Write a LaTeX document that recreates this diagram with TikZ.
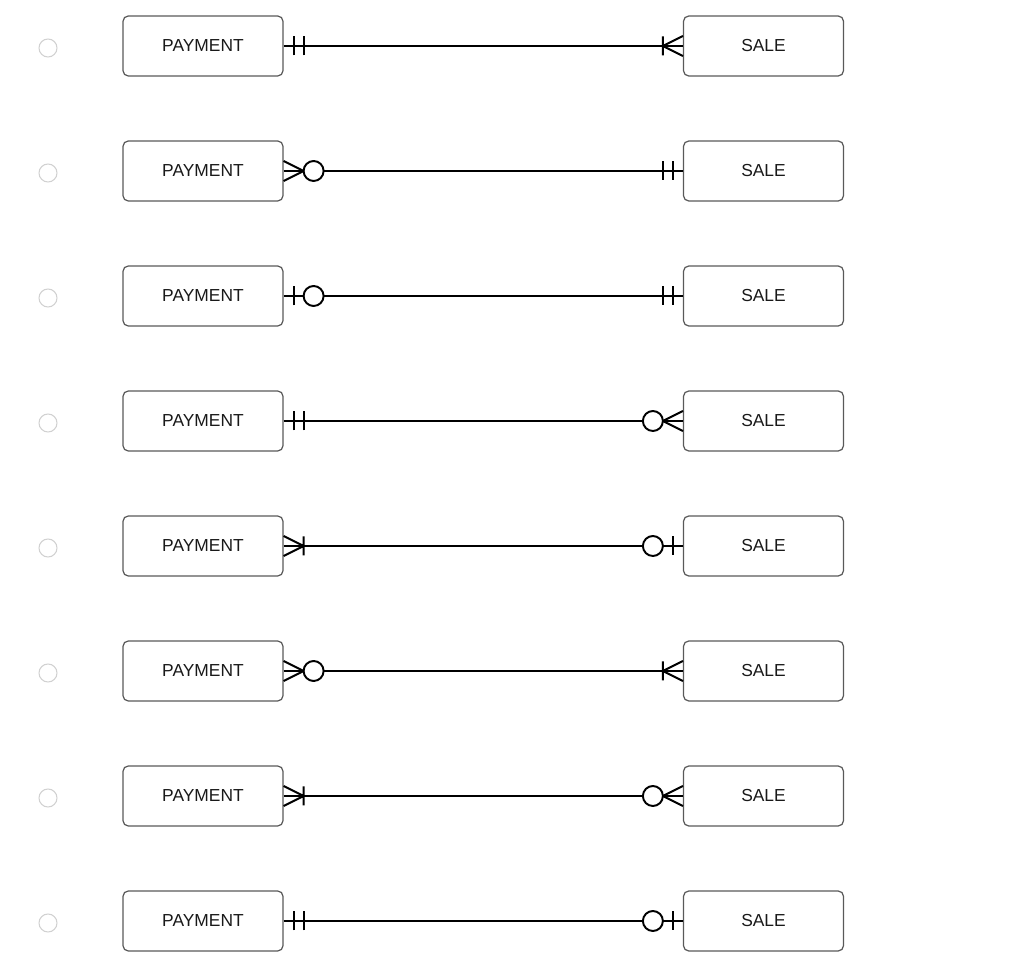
\documentclass[tikz,border=0pt]{standalone}
\usepackage{fontspec}
\setmainfont{Liberation Sans}
\usepackage{tikz}

\begin{document}
\begin{tikzpicture}[line width=1.1pt, font=\fontsize{9.9}{11}\selectfont,
    ent/.style={draw=black!65, line width=0.7pt, rounded corners=3pt,
      minimum width=3.2cm, minimum height=1.2cm, text=black!90},
    radio/.style={circle, draw=black!18, line width=0.6pt,
      minimum size=0.36cm, inner sep=0pt},
    rel/.style={black},
    pics/onlyone/.style={code={
      \draw (0.2,-0.19) -- (0.2,0.19) (0.4,-0.19) -- (0.4,0.19);}},
    pics/onemany/.style={code={
      \draw (0,0.2) -- (0.4,0) -- (0,-0.2) (0.4,-0.19) -- (0.4,0.19);}},
    pics/zeromany/.style={code={
      \draw (0,0.2) -- (0.4,0) -- (0,-0.2);
      \draw[fill=white] (0.6,0) circle (0.2);}},
    pics/zeroone/.style={code={
      \draw (0.2,-0.19) -- (0.2,0.19);
      \draw[fill=white] (0.6,0) circle (0.2);}}]
    \useasboundingbox (0,0) rectangle (20.48,-19.44);
    % row 1
    \node[radio] (r1) at (0.96,-0.96) {};
    \node[ent] (p1) at (4.06,-0.92) {PAYMENT};
    \node[ent] (s1) at (15.27,-0.92) {SALE};
    \draw[rel] (p1) -- (s1);
    \pic at (p1.east) {onlyone};
    \pic[rotate=180] at (s1.west) {onemany};
    % row 2
    \node[radio] (r2) at (0.96,-3.46) {};
    \node[ent] (p2) at (4.06,-3.42) {PAYMENT};
    \node[ent] (s2) at (15.27,-3.42) {SALE};
    \draw[rel] (p2) -- (s2);
    \pic at (p2.east) {zeromany};
    \pic[rotate=180] at (s2.west) {onlyone};
    % row 3
    \node[radio] (r3) at (0.96,-5.96) {};
    \node[ent] (p3) at (4.06,-5.92) {PAYMENT};
    \node[ent] (s3) at (15.27,-5.92) {SALE};
    \draw[rel] (p3) -- (s3);
    \pic at (p3.east) {zeroone};
    \pic[rotate=180] at (s3.west) {onlyone};
    % row 4
    \node[radio] (r4) at (0.96,-8.46) {};
    \node[ent] (p4) at (4.06,-8.42) {PAYMENT};
    \node[ent] (s4) at (15.27,-8.42) {SALE};
    \draw[rel] (p4) -- (s4);
    \pic at (p4.east) {onlyone};
    \pic[rotate=180] at (s4.west) {zeromany};
    % row 5
    \node[radio] (r5) at (0.96,-10.96) {};
    \node[ent] (p5) at (4.06,-10.92) {PAYMENT};
    \node[ent] (s5) at (15.27,-10.92) {SALE};
    \draw[rel] (p5) -- (s5);
    \pic at (p5.east) {onemany};
    \pic[rotate=180] at (s5.west) {zeroone};
    % row 6
    \node[radio] (r6) at (0.96,-13.46) {};
    \node[ent] (p6) at (4.06,-13.42) {PAYMENT};
    \node[ent] (s6) at (15.27,-13.42) {SALE};
    \draw[rel] (p6) -- (s6);
    \pic at (p6.east) {zeromany};
    \pic[rotate=180] at (s6.west) {onemany};
    % row 7
    \node[radio] (r7) at (0.96,-15.96) {};
    \node[ent] (p7) at (4.06,-15.92) {PAYMENT};
    \node[ent] (s7) at (15.27,-15.92) {SALE};
    \draw[rel] (p7) -- (s7);
    \pic at (p7.east) {onemany};
    \pic[rotate=180] at (s7.west) {zeromany};
    % row 8
    \node[radio] (r8) at (0.96,-18.46) {};
    \node[ent] (p8) at (4.06,-18.42) {PAYMENT};
    \node[ent] (s8) at (15.27,-18.42) {SALE};
    \draw[rel] (p8) -- (s8);
    \pic at (p8.east) {onlyone};
    \pic[rotate=180] at (s8.west) {zeroone};
  \end{tikzpicture}
\end{document}
